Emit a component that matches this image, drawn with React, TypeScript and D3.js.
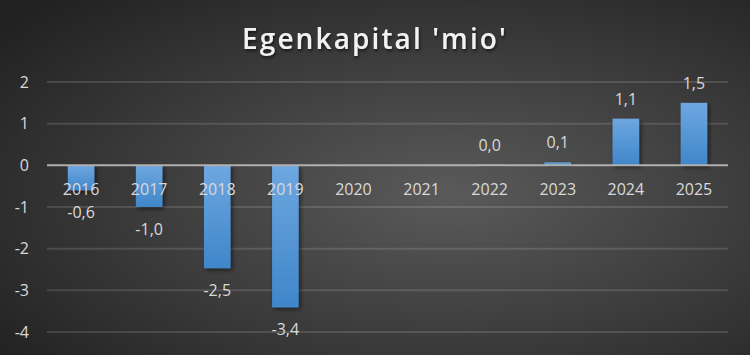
import React from "react";
import * as d3 from "d3";

const categories = ["2016", "2017", "2018", "2019", "2020", "2021", "2022", "2023", "2024", "2025"];
const values: (number | null)[] = [-0.6, -1.0, -2.47, -3.41, null, null, 0.02, 0.07, 1.12, 1.5];
const labels = ["-0,6", "-1,0", "-2,5", "-3,4", "", "", "0,0", "0,1", "1,1", "1,5"];
const yTicks = [2, 1, 0, -1, -2, -3, -4];

const W = 750, H = 355;
const M = { left: 47, right: 22, top: 82, bottom: 23 };

export default function App() {
  const x = d3.scaleBand().domain(categories).range([M.left, W - M.right]).paddingInner(0.61).paddingOuter(0.305);
  const y = d3.scaleLinear().domain([-4, 2]).range([332, 82]);
  const font = "'Open Sans', sans-serif";
  return (
    <svg width={W} height={H} style={{ position: "absolute", left: 0, top: 0 }}>
      <defs>
        <radialGradient id="bg" cx="0.6" cy="0.55" r="0.75">
          <stop offset="0" stopColor="#5a5a5a" />
          <stop offset="1" stopColor="#222222" />
        </radialGradient>
        <linearGradient id="bar" x1="0" y1="0" x2="0" y2="1">
          <stop offset="0" stopColor="#6ea7e0" />
          <stop offset="1" stopColor="#3f86ca" />
        </linearGradient>
        <filter id="sh" x="-50%" y="-50%" width="200%" height="200%">
          <feDropShadow dx="2" dy="2" stdDeviation="2" floodColor="#000" floodOpacity="0.5" />
        </filter>
        <filter id="tsh" x="-20%" y="-50%" width="140%" height="200%">
          <feDropShadow dx="1" dy="2" stdDeviation="1.5" floodColor="#000" floodOpacity="0.6" />
        </filter>
      </defs>
      <rect x={0} y={0} width={W} height={H} fill="url(#bg)" />
      <text x={375} y={49} textAnchor="middle" fontFamily="'Open Sans', sans-serif" fontWeight="600" fontSize={28} letterSpacing={2.1} fill="#f2f2f2" filter="url(#tsh)">
        Egenkapital 'mio'
      </text>
      {yTicks.map((t) => (
        <g key={t}>
          {t !== 0 && <line x1={M.left} x2={W - M.right} y1={y(t)} y2={y(t)} stroke="#ffffff" strokeOpacity={0.13} strokeWidth={2} />}
          <text x={29} y={y(t)} dy="0.35em" textAnchor="end" fontFamily={font} fontSize={16} fill="#d9d9d9">{t}</text>
        </g>
      ))}
      {categories.map((c, i) => {
        const v = values[i];
        if (v === null) return null;
        const y0 = y(0), y1 = y(v);
        return (
          <rect key={c} x={x(c)} y={Math.min(y0, y1)} width={x.bandwidth()} height={Math.max(1.5, Math.abs(y1 - y0))} fill="url(#bar)" filter="url(#sh)" />
        );
      })}
      <line x1={M.left} x2={W - M.right} y1={y(0)} y2={y(0)} stroke="#b0b0b0" strokeWidth={2} />
      {categories.map((c) => (
        <text key={c} x={(x(c) as number) + x.bandwidth() / 2} y={195} textAnchor="middle" fontFamily={font} fontSize={16} fill="#d9d9d9">{c}</text>
      ))}
      {categories.map((c, i) => {
        const v = values[i];
        if (v === null) return null;
        const yy = v < 0 ? y(v) + 28 : y(v) - 14;
        return (
          <text key={c} x={(x(c) as number) + x.bandwidth() / 2} y={yy} textAnchor="middle" fontFamily={font} fontSize={16} fill="#d9d9d9">{labels[i]}</text>
        );
      })}
    </svg>
  );
}
